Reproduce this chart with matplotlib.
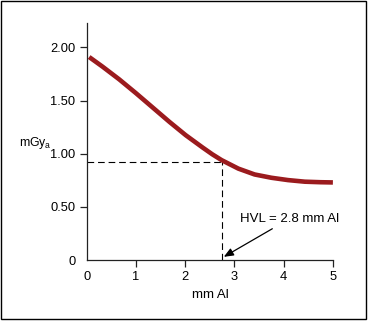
import matplotlib
matplotlib.use("Agg")
import matplotlib.pyplot as plt
from matplotlib.patches import Rectangle

plt.rcParams["font.family"] = ["Liberation Sans", "DejaVu Sans"]

# exposure vs. filter thickness
thickness_mm = [0.05, 0.32, 0.66, 1.00, 1.34, 1.68, 2.01, 2.35, 2.55, 2.74,
                3.08, 3.41, 3.75, 4.09, 4.43, 4.75, 5.00]
exposure = [1.91, 1.82, 1.70, 1.57, 1.435, 1.30, 1.175, 1.06, 0.995, 0.94,
            0.86, 0.805, 0.774, 0.752, 0.737, 0.732, 0.73]

hvl_x = 2.74
hvl_y = 0.92
hvl_label = "HVL = 2.8 mm Al"

x_ticks = [0, 1, 2, 3, 4, 5]
y_ticks = [0, 0.5, 1.0, 1.5, 2.0]
y_tick_labels = ["0", "0.50", "1.00", "1.50", "2.00"]

fig = plt.figure(figsize=(3.68, 3.22), dpi=100)
ax = fig.add_axes([0.2356, 0.1925, 0.669, 0.736])

ax.plot(thickness_mm, exposure, color="#9b1b1e", lw=3.3,
        solid_capstyle="butt", solid_joinstyle="round", zorder=3)

# half-value guide lines
ax.plot([0, hvl_x], [hvl_y, hvl_y], color="black", lw=0.8,
        dashes=(6, 3.5), zorder=2)
ax.plot([hvl_x, hvl_x], [0, hvl_y], color="black", lw=0.8,
        dashes=(6, 3.5), zorder=2)

ax.annotate(hvl_label, xy=(2.785, 0.03), xytext=(3.12, 0.39),
            fontsize=9.5, va="center", ha="left",
            arrowprops=dict(arrowstyle="-|>,head_length=0.6,head_width=0.25",
                            color="black", lw=0.9, shrinkA=2, shrinkB=0))

ax.set_xlim(0, 5)
ax.set_ylim(0, 2.23)
ax.set_xticks(x_ticks)
ax.set_yticks(y_ticks)
ax.set_yticklabels(y_tick_labels)
ax.tick_params(axis="both", direction="out", length=5, width=0.9,
               labelsize=9.3, pad=3, color="#222222")

# no tick marks at the origin
ax.xaxis.get_major_ticks()[0].tick1line.set_visible(False)
ax.yaxis.get_major_ticks()[0].tick1line.set_visible(False)

for side in ["top", "right"]:
    ax.spines[side].set_visible(False)
for side in ["left", "bottom"]:
    ax.spines[side].set_linewidth(0.9)
    ax.spines[side].set_color("#222222")

fig.text(0.572, 0.084, "mm Al", fontsize=9.5, ha="center", va="center")
fig.text(0.052, 0.557, r"mGy$_\mathregular{a}$", fontsize=8.8,
         ha="left", va="center")

fig.patches.append(Rectangle((0.5 / 368, 3 / 322), 365.5 / 368, 318.5 / 322,
                             transform=fig.transFigure, fill=False,
                             edgecolor="black", lw=1.0))

fig.savefig("out.png", dpi=100)
